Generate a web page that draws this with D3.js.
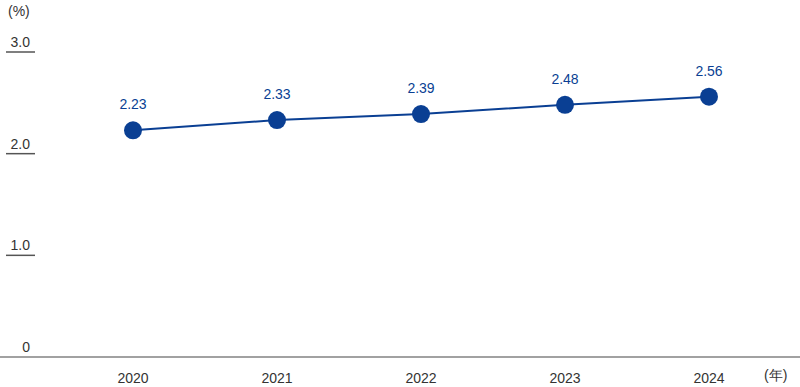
<!DOCTYPE html>
<html>
<head>
<meta charset="utf-8">
<script src="https://cdn.jsdelivr.net/npm/d3@7"></script>
<style>
  body { margin: 0; background: #fff; }
  svg text { font-family: "Liberation Sans", Arial, sans-serif; }
</style>
</head>
<body>
<svg id="chart" width="800" height="387"></svg>
<script>
// Data
const years = ["2020", "2021", "2022", "2023", "2024"];
const values = [2.23, 2.33, 2.39, 2.48, 2.56];
const yTicks = [0, 1.0, 2.0, 3.0];
const yTickLabels = ["0", "1.0", "2.0", "3.0"];

const svg = d3.select("#chart");
const blue = "#0a3f93";
const gray = "#333";

// Scales
const x = d3.scalePoint().domain(years).range([133, 709]);
const y = d3.scaleLinear().domain([0, 3]).range([357, 52]);

// Y ticks (short lines with labels above)
yTicks.forEach((t, i) => {
  if (t > 0) {
    svg.append("line")
      .attr("x1", 6).attr("x2", 35)
      .attr("y1", y(t)).attr("y2", y(t))
      .attr("stroke", "#555").attr("stroke-width", 1.5);
  }
  svg.append("text")
    .attr("x", 30).attr("y", y(t) - 5)
    .attr("text-anchor", "end")
    .attr("font-size", 14)
    .attr("fill", gray)
    .text(yTickLabels[i]);
});

// Baseline
svg.append("line")
  .attr("x1", 0).attr("x2", 800)
  .attr("y1", y(0)).attr("y2", y(0))
  .attr("stroke", "#444").attr("stroke-width", 1.2);

// Unit labels
svg.append("text")
  .attr("x", 8).attr("y", 16)
  .attr("font-size", 14).attr("fill", gray)
  .text("(%)");

svg.append("text")
  .attr("x", 764).attr("y", 380)
  .attr("font-size", 14).attr("fill", gray)
  .attr("font-family", "'Noto Sans CJK JP', sans-serif")
  .text("(年)");

// X labels
svg.selectAll(".xlab")
  .data(years)
  .enter().append("text")
  .attr("x", d => x(d))
  .attr("y", 383)
  .attr("text-anchor", "middle")
  .attr("font-size", 14)
  .attr("fill", gray)
  .text(d => d);

// Line
const line = d3.line()
  .x((d, i) => x(years[i]))
  .y(d => y(d));

svg.append("path")
  .datum(values)
  .attr("d", line)
  .attr("fill", "none")
  .attr("stroke", blue)
  .attr("stroke-width", 2);

// Dots
svg.selectAll(".dot")
  .data(values)
  .enter().append("circle")
  .attr("cx", (d, i) => x(years[i]))
  .attr("cy", d => y(d))
  .attr("r", 9)
  .attr("fill", blue);

// Value labels
svg.selectAll(".val")
  .data(values)
  .enter().append("text")
  .attr("x", (d, i) => x(years[i]))
  .attr("y", d => y(d) - 21)
  .attr("text-anchor", "middle")
  .attr("font-size", 14)
  .attr("fill", blue)
  .text(d => d.toFixed(2));
</script>
</body>
</html>
